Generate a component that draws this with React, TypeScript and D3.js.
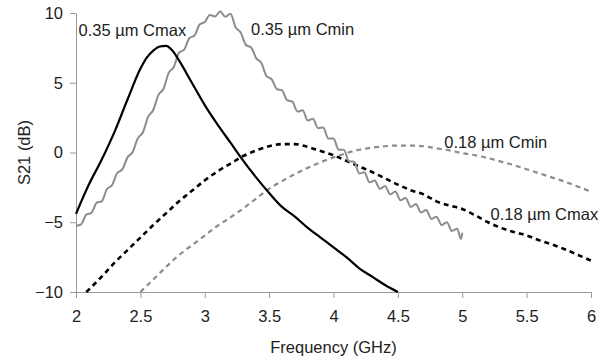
import { useEffect, useRef } from "react";
import * as d3 from "d3";

// [frequency GHz, S21 dB]
const cmax035: [number, number][] = [
    [2.0, -4.4], [2.1, -2.3], [2.2, -0.5], [2.3, 1.5], [2.4, 3.8], [2.5, 6.0],
    [2.55, 6.8], [2.6, 7.3], [2.65, 7.6], [2.7, 7.65], [2.75, 7.3], [2.8, 6.6],
    [2.9, 5.0], [3.0, 3.4], [3.1, 2.0], [3.2, 0.7], [3.3, -0.6], [3.4, -1.8],
    [3.5, -2.9], [3.6, -3.9], [3.7, -4.6], [3.8, -5.4], [3.9, -6.1], [4.0, -6.8],
    [4.1, -7.5], [4.2, -8.3], [4.3, -8.9], [4.4, -9.5], [4.5, -10.0]
];

const cmin035: [number, number][] = [
    [2.00, -5.25], [2.04, -5.15], [2.08, -4.45], [2.12, -4.33], [2.16, -3.61], [2.20, -3.5],
    [2.24, -2.62], [2.28, -2.34], [2.32, -1.47], [2.36, -1.21], [2.40, -0.35], [2.44, 0.03],
    [2.48, 1.01], [2.52, 1.45], [2.56, 2.55], [2.60, 3.05], [2.64, 4.11], [2.68, 4.57],
    [2.72, 5.71], [2.76, 6.13], [2.80, 7.15], [2.84, 7.37], [2.88, 8.19], [2.92, 8.39],
    [2.96, 9.17], [3.00, 9.35], [3.04, 9.85], [3.08, 9.75], [3.12, 10.1], [3.16, 9.73],
    [3.20, 9.95], [3.24, 8.97], [3.28, 8.59], [3.32, 7.71], [3.36, 7.53], [3.40, 6.75],
    [3.44, 6.41], [3.48, 5.47], [3.52, 5.25], [3.56, 4.55], [3.60, 4.45], [3.64, 3.75],
    [3.68, 3.65], [3.72, 2.94], [3.76, 3.02], [3.80, 2.3], [3.84, 2.42], [3.88, 1.74],
    [3.92, 1.8], [3.96, 1.0], [4.00, 1.0], [4.04, 0.2], [4.08, 0.2], [4.12, -0.62],
    [4.16, -0.66], [4.20, -1.5], [4.24, -1.42], [4.28, -2.14], [4.32, -2.0], [4.36, -2.6],
    [4.40, -2.4], [4.44, -3.0], [4.48, -2.8], [4.52, -3.42], [4.56, -3.26], [4.60, -3.9],
    [4.64, -3.7], [4.68, -4.3], [4.72, -4.12], [4.76, -4.76], [4.80, -4.6], [4.84, -5.2],
    [4.88, -5.0], [4.92, -5.62], [4.96, -5.46], [4.99, -6.2], [5.00, -5.75]
];

const cmax018: [number, number][] = [
    [2.08, -10.0], [2.2, -8.9], [2.3, -7.9], [2.4, -7.0], [2.5, -6.1], [2.6, -5.2],
    [2.7, -4.35], [2.8, -3.5], [2.9, -2.75], [3.0, -2.0], [3.1, -1.35], [3.2, -0.8],
    [3.3, -0.25], [3.4, 0.15], [3.5, 0.45], [3.6, 0.6], [3.7, 0.6], [3.8, 0.4],
    [3.9, 0.1], [4.0, -0.2], [4.1, -0.6], [4.2, -1.0], [4.3, -1.4], [4.4, -1.85],
    [4.5, -2.3], [4.6, -2.7], [4.7, -3.0], [4.8, -3.5], [4.9, -3.8], [5.0, -4.05],
    [5.1, -4.5], [5.2, -5.0], [5.3, -5.4], [5.4, -5.7], [5.5, -5.95], [5.6, -6.3],
    [5.7, -6.6], [5.8, -6.95], [5.9, -7.35], [6.0, -7.75]
];

const cmin018: [number, number][] = [
    [2.5, -10.0], [2.6, -9.1], [2.7, -8.2], [2.8, -7.35], [2.9, -6.65], [3.0, -5.95],
    [3.1, -5.25], [3.2, -4.65], [3.3, -4.0], [3.4, -3.3], [3.5, -2.6], [3.6, -2.05],
    [3.7, -1.55], [3.8, -1.1], [3.9, -0.7], [4.0, -0.35], [4.1, -0.05], [4.2, 0.2],
    [4.3, 0.35], [4.4, 0.45], [4.5, 0.5], [4.6, 0.5], [4.7, 0.45], [4.8, 0.3],
    [4.9, 0.15], [5.0, -0.05], [5.1, -0.2], [5.2, -0.4], [5.3, -0.65], [5.4, -0.9],
    [5.5, -1.2], [5.6, -1.5], [5.7, -1.8], [5.8, -2.1], [5.9, -2.45], [6.0, -2.8]
];

const xTicks = [2, 2.5, 3, 3.5, 4, 4.5, 5, 5.5, 6];
const yTicks = [-10, -5, 0, 5, 10];

const labels = [
    { text: "0.35 µm Cmax", f: 2.02, v: 8.35 },
    { text: "0.35 µm Cmin", f: 3.36, v: 8.45 },
    { text: "0.18 µm Cmin", f: 4.86, v: 0.35 },
    { text: "0.18 µm Cmax", f: 5.22, v: -4.85 },
];

export default function App() {
    const svgRef = useRef<SVGSVGElement | null>(null);

    useEffect(() => {
        const svg = d3.select(svgRef.current);
        svg.selectAll("*").remove();

        const width = 601;
        const height = 360;
        const font = "Arial, 'Liberation Sans', sans-serif";
        const axisGray = "#9a9a9a";

        const x = d3.scaleLinear().domain([2, 6]).range([76, 591]);
        const y = d3.scaleLinear().domain([-10, 10]).range([292, 13]);

        // y axis
        const gy = svg.append("g")
            .attr("transform", `translate(${x(2)},0)`)
            .call(d3.axisLeft(y).tickValues(yTicks).tickSize(6).tickSizeOuter(0).tickPadding(7).tickFormat(d3.format("")));
        gy.selectAll("path, line").attr("stroke", axisGray);
        gy.selectAll("text").attr("font-size", 16.5).attr("font-family", font).attr("fill", "#222");

        // x axis
        const gx = svg.append("g")
            .attr("transform", `translate(0,${y(-10)})`)
            .call(d3.axisBottom(x).tickValues(xTicks).tickSize(6).tickSizeOuter(0).tickPadding(12).tickFormat(d3.format("")));
        gx.selectAll("path, line").attr("stroke", axisGray);
        gx.selectAll("text").attr("font-size", 16.5).attr("font-family", font).attr("fill", "#222");

        const line = d3.line<[number, number]>()
            .x(d => x(d[0]))
            .y(d => y(d[1]))
            .curve(d3.curveMonotoneX);

        const series = [
            { data: cmin018, color: "#8c8c8c", width: 2.2, dash: "5,4" },
            { data: cmax018, color: "#000", width: 2.6, dash: "5,4" },
            { data: cmin035, color: "#8c8c8c", width: 2, dash: null },
            { data: cmax035, color: "#000", width: 2.2, dash: null },
        ];

        svg.append("g")
            .selectAll("path")
            .data(series)
            .join("path")
            .attr("d", d => line(d.data))
            .attr("fill", "none")
            .attr("stroke", d => d.color)
            .attr("stroke-width", d => d.width)
            .attr("stroke-dasharray", d => d.dash)
            .attr("stroke-linejoin", "round");

        svg.append("g")
            .selectAll("text")
            .data(labels)
            .join("text")
            .attr("x", d => x(d.f))
            .attr("y", d => y(d.v))
            .attr("font-size", 16.5)
            .attr("font-family", font)
            .attr("fill", "#222")
            .text(d => d.text);

        svg.append("text")
            .attr("x", (x(2) + x(6)) / 2)
            .attr("y", 353)
            .attr("text-anchor", "middle")
            .attr("font-size", 16.5)
            .attr("font-family", font)
            .attr("fill", "#222")
            .text("Frequency (GHz)");

        svg.append("text")
            .attr("transform", `translate(30,${(y(-10) + y(10)) / 2}) rotate(-90)`)
            .attr("text-anchor", "middle")
            .attr("font-size", 16.5)
            .attr("font-family", font)
            .attr("fill", "#222")
            .text("S21 (dB)");

        svg.attr("width", width).attr("height", height);
    }, []);

    return (
        <svg ref={svgRef} width={601} height={360}
            style={{ position: "absolute", left: 0, top: 0, background: "#fff" }} />
    );
}
